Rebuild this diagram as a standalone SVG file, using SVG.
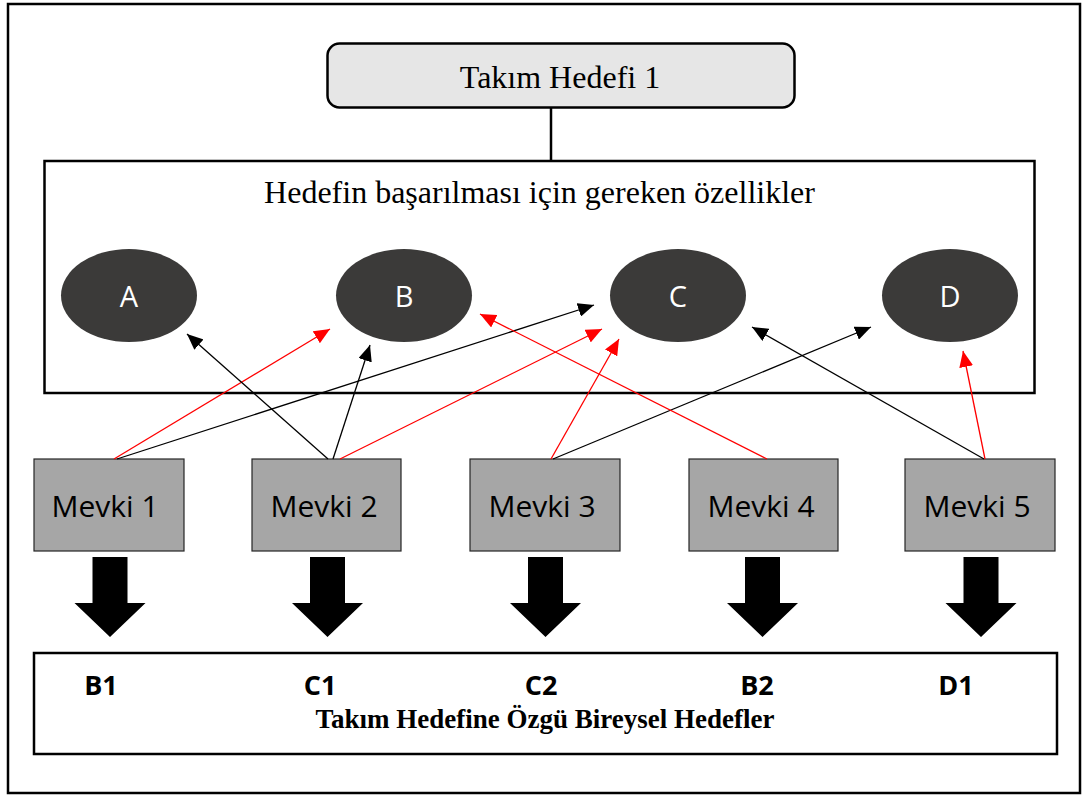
<svg xmlns="http://www.w3.org/2000/svg" width="1082" height="796" viewBox="0 0 1082 796">
<style>
.serif{font-family:"Liberation Serif","Times New Roman",serif;fill:#000}
.sans{font-family:"Open Sans","Liberation Sans",sans-serif}
.ell{fill:#3b3a39}
.elltxt{fill:#fff;font-size:29px}
.mev{fill:#a6a6a6;stroke:#262626;stroke-width:1.2}
.mevtxt{fill:#000;font-size:30px}
.blk{stroke:#000;stroke-width:1.3;fill:none;marker-end:url(#ab)}
.red{stroke:#ff0000;stroke-width:1.3;fill:none;marker-end:url(#ar)}
.lbl{font-weight:bold;font-size:27px;fill:#000}
</style>
<defs>
<marker id="ab" markerUnits="userSpaceOnUse" markerWidth="16" markerHeight="14" refX="16" refY="7" orient="auto"><path d="M0,0 L16,7 L0,14 z" fill="#000"/></marker>
<marker id="ar" markerUnits="userSpaceOnUse" markerWidth="16" markerHeight="14" refX="16" refY="7" orient="auto"><path d="M0,0 L16,7 L0,14 z" fill="#ff0000"/></marker>
<path id="barrow" d="M-17.5,0 H17.5 V46 H35.5 L0,80 L-35.5,46 H-17.5 Z"/>
</defs>
<rect width="1082" height="796" fill="#fff"/>
<rect x="8" y="4" width="1072" height="789" fill="none" stroke="#000" stroke-width="2.5"/>

<g id="takim-hedefi">
<rect x="327.5" y="43.5" width="467" height="64" rx="12" fill="#e6e6e6" stroke="#000" stroke-width="2.5"/>
<text class="serif" x="560" y="88" font-size="32" text-anchor="middle">Takım Hedefi 1</text>
</g>

<g id="ozellikler">
<rect x="44.5" y="161" width="990" height="232" fill="#fff" stroke="#000" stroke-width="2.5"/>
<text class="serif" x="539.5" y="203" font-size="32" text-anchor="middle">Hedefin başarılması için gereken özellikler</text>
</g>

<g id="A"><ellipse class="ell" cx="129" cy="295.5" rx="68" ry="46.5"/><text class="sans elltxt" x="129" y="307" text-anchor="middle">A</text></g>
<g id="B"><ellipse class="ell" cx="404" cy="295.5" rx="68" ry="46.5"/><text class="sans elltxt" x="404" y="307" text-anchor="middle">B</text></g>
<g id="C"><ellipse class="ell" cx="678" cy="295.5" rx="68" ry="46.5"/><text class="sans elltxt" x="678" y="307" text-anchor="middle">C</text></g>
<g id="D"><ellipse class="ell" cx="950" cy="295.5" rx="68" ry="46.5"/><text class="sans elltxt" x="950" y="307" text-anchor="middle">D</text></g>

<g id="mevki1"><rect class="mev" x="34" y="459" width="150" height="92"/><text class="sans mevtxt" x="105" y="517" text-anchor="middle">Mevki 1</text></g>
<g id="mevki2"><rect class="mev" x="252" y="459" width="149" height="92"/><text class="sans mevtxt" x="324" y="517" text-anchor="middle">Mevki 2</text></g>
<g id="mevki3"><rect class="mev" x="470" y="459" width="150" height="92"/><text class="sans mevtxt" x="542" y="517" text-anchor="middle">Mevki 3</text></g>
<g id="mevki4"><rect class="mev" x="689" y="459" width="149" height="92"/><text class="sans mevtxt" x="761" y="517" text-anchor="middle">Mevki 4</text></g>
<g id="mevki5"><rect class="mev" x="905" y="459" width="150" height="92"/><text class="sans mevtxt" x="977" y="517" text-anchor="middle">Mevki 5</text></g>

<g id="hedefler">
<rect x="34" y="653" width="1023" height="101" fill="#fff" stroke="#000" stroke-width="2.5"/>
<text class="sans lbl" x="101" y="695" text-anchor="middle">B1</text>
<text class="sans lbl" x="320" y="695" text-anchor="middle">C1</text>
<text class="sans lbl" x="541" y="695" text-anchor="middle">C2</text>
<text class="sans lbl" x="757" y="695" text-anchor="middle">B2</text>
<text class="sans lbl" x="956" y="695" text-anchor="middle">D1</text>
<text class="serif" x="545" y="728" font-size="27" font-weight="bold" text-anchor="middle">Takım Hedefine Özgü Bireysel Hedefler</text>
</g>

<g id="connectors">
<line x1="551" y1="108" x2="551" y2="161" stroke="#000" stroke-width="2.5"/>
<line class="red" x1="114" y1="459" x2="330" y2="329"/>
<line class="blk" x1="117" y1="459" x2="594" y2="305"/>
<line class="blk" x1="328" y1="459" x2="187" y2="334"/>
<line class="blk" x1="333" y1="459" x2="370" y2="345"/>
<line class="red" x1="340" y1="459" x2="602" y2="329"/>
<line class="red" x1="551" y1="459" x2="619" y2="339"/>
<line class="blk" x1="553" y1="459" x2="871" y2="327"/>
<line class="red" x1="767" y1="459" x2="480" y2="314"/>
<line class="blk" x1="984" y1="459" x2="752" y2="327"/>
<line class="red" x1="985" y1="459" x2="963" y2="351"/>
<use href="#barrow" x="110" y="557"/>
<use href="#barrow" x="327.5" y="557"/>
<use href="#barrow" x="545.5" y="557"/>
<use href="#barrow" x="762.5" y="557"/>
<use href="#barrow" x="981" y="557"/>
</g>
</svg>
